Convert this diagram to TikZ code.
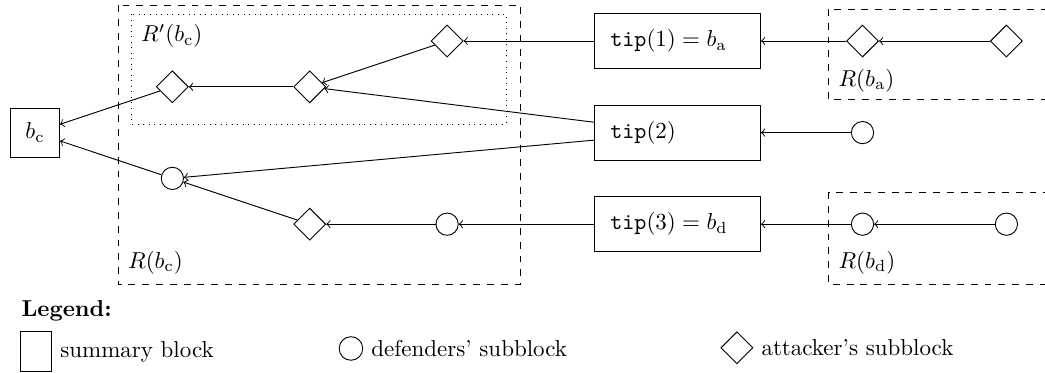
\documentclass[tikz,border=0pt]{standalone}
\usepackage{tikz}
\usepackage{amsmath, amsfonts, amssymb}
\usetikzlibrary{shapes.geometric,positioning}

\begin{document}
\begin{tikzpicture}
	\tikzstyle{summary}=[rectangle,draw=black,minimum size=0.75cm,inner sep=0pt]
	\tikzstyle{tipblock}=[rectangle,draw=black,text width=2.05cm,align=left,inner sep=0.245cm,minimum height=0.84cm]
	\tikzstyle{defender}=[circle,draw=black,minimum size=0.34cm,inner sep=0pt]
	\tikzstyle{attacker}=[diamond,draw=black,minimum size=0.49cm,inner sep=0pt]
	\useasboundingbox (-0.535,0.627) rectangle (15.44,-5.065);
	\clip (-0.535,0.627) rectangle (15.44,-5.065);
	% regions
	\draw[dashed] (1.27,0.55) rectangle (7.42,-3.72);
	\draw[dotted] (1.48,0.41) rectangle (7.2,-1.27);
	\draw[dashed] (12.13,0.49) rectangle (16,-0.9);
	\draw[dashed] (12.13,-2.31) rectangle (16,-3.72);
	\node[anchor=west](rpc) at (1.5,0.08) {$R'(b_{\mathrm{c}})$};
	\node[anchor=west](rc) at (1.3,-3.39) {$R(b_{\mathrm{c}})$};
	\node[anchor=west](ra) at (12.16,-0.6) {$R(b_{\mathrm{a}})$};
	\node[anchor=west](rd) at (12.16,-3.39) {$R(b_{\mathrm{d}})$};
	% blocks
	\node[summary](bc) at (0,-1.4) {$b_{\mathrm{c}}$};
	\node[attacker](a1) at (2.1,-0.7) {};
	\node[attacker](a2) at (4.2,-0.7) {};
	\node[attacker](a3) at (6.3,0) {};
	\node[defender](d1) at (2.1,-2.1) {};
	\node[attacker](a4) at (4.2,-2.8) {};
	\node[defender](d2) at (6.3,-2.8) {};
	\node[tipblock](tip1) at (9.82,0) {$\texttt{tip}(1) = b_{\mathrm{a}}$};
	\node[tipblock](tip2) at (9.82,-1.4) {$\texttt{tip}(2)$};
	\node[tipblock](tip3) at (9.82,-2.8) {$\texttt{tip}(3) = b_{\mathrm{d}}$};
	\node[attacker](a5) at (12.65,0) {};
	\node[attacker](a6) at (14.85,0) {};
	\node[defender](d3) at (12.65,-1.4) {};
	\node[defender](d4) at (12.65,-2.8) {};
	\node[defender](d5) at (14.85,-2.8) {};
	% links
	\draw[->] (a1) to (bc);
	\draw[->] (d1) to (bc);
	\draw[->] (a2) to (a1);
	\draw[->] (a3) to (a2);
	\draw[->] (tip2) to (a2);
	\draw[->] (tip2) to (d1);
	\draw[->] (a4) to (d1);
	\draw[->] (d2) to (a4);
	\draw[->] (tip1) to (a3);
	\draw[->] (tip3) to (d2);
	\draw[->] (a5) to (tip1);
	\draw[->] (a6) to (a5);
	\draw[->] (d3) to (tip2);
	\draw[->] (d4) to (tip3);
	\draw[->] (d5) to (d4);
	% legend
	\node[anchor=west](legend) at (-0.33,-4.13) {\textbf{Legend:}};
	\node[draw=black,minimum width=0.47cm,minimum height=0.62cm,inner sep=0pt](keysum) at (0.02,-4.745) {};
	\node[right=0pt of keysum](txtsum) {summary block};
	\node[defender,minimum size=0.36cm](keydef) at (4.83,-4.70) {};
	\node[right=0pt of keydef](txtdef) {defenders' subblock};
	\node[attacker](keyatt) at (10.73,-4.69) {};
	\node[right=0pt of keyatt](txtatt) {attacker's subblock};
\end{tikzpicture}
\end{document}
